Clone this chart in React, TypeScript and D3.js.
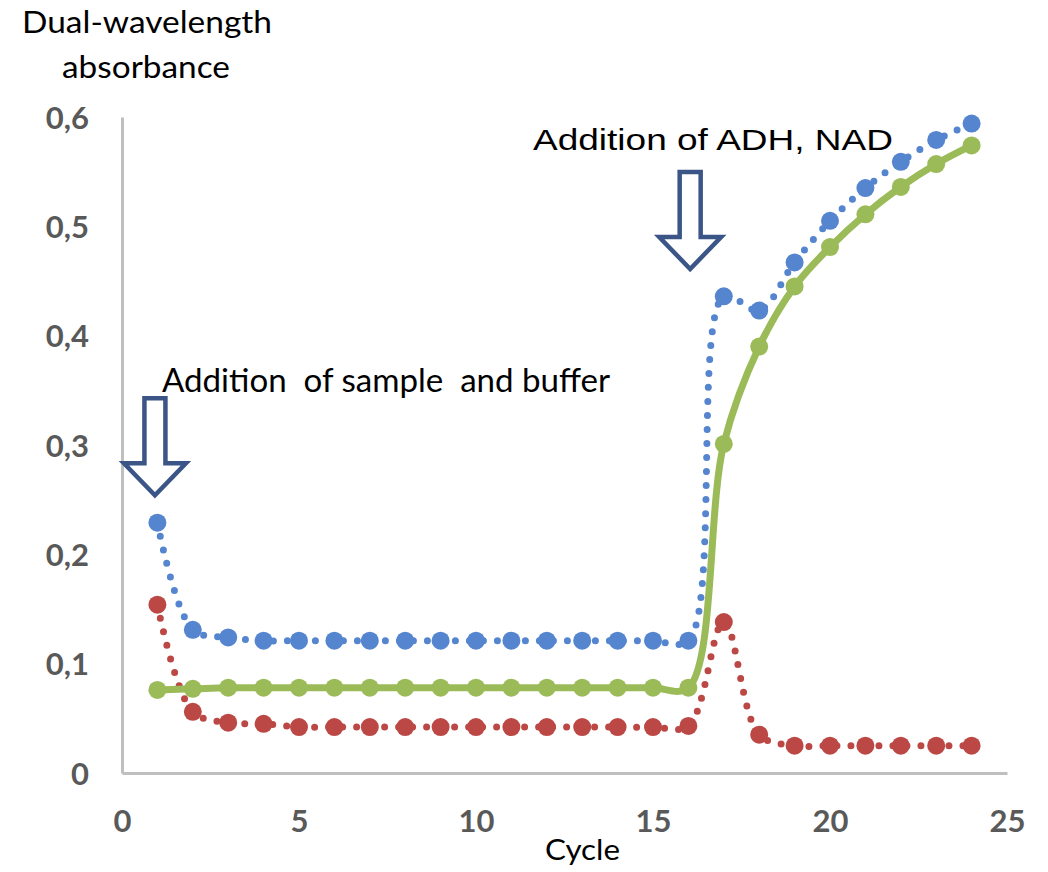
import { useRef, useEffect } from 'react'
import * as d3 from 'd3'

const CYCLES = [1, 2, 3, 4, 5, 6, 7, 8, 9, 10, 11, 12, 13, 14, 15, 16, 17, 18, 19, 20, 21, 22, 23, 24]
const BLUE = [0.229, 0.131, 0.124, 0.121, 0.121, 0.121, 0.121, 0.121, 0.121, 0.121, 0.121, 0.121, 0.121, 0.121, 0.121, 0.121, 0.436, 0.423, 0.467, 0.505, 0.535, 0.559, 0.579, 0.594]
const RED = [0.154, 0.056, 0.046, 0.045, 0.042, 0.042, 0.042, 0.042, 0.042, 0.042, 0.042, 0.042, 0.042, 0.042, 0.042, 0.043, 0.138, 0.035, 0.025, 0.025, 0.025, 0.025, 0.025, 0.025]
const GREEN = [0.076, 0.077, 0.078, 0.078, 0.078, 0.078, 0.078, 0.078, 0.078, 0.078, 0.078, 0.078, 0.078, 0.078, 0.078, 0.078, 0.301, 0.39, 0.445, 0.481, 0.511, 0.536, 0.557, 0.574]

const X_TICKS = [0, 5, 10, 15, 20, 25]
const X_TICK_LABELS = ['0', '5', '10', '15', '20', '25']
const Y_TICKS = [0, 0.1, 0.2, 0.3, 0.4, 0.5, 0.6]
const Y_TICK_LABELS = ['0', '0,1', '0,2', '0,3', '0,4', '0,5', '0,6']

// arrow tips, in data units
const ARROWS = [
  { x: 0.93, y: 0.254 },
  { x: 16.05, y: 0.461 },
]

const W = 1048
const H = 872
const CALIBRI = "Lato, 'Open Sans', sans-serif"

export default function App() {
  const svgRef = useRef<SVGSVGElement>(null)

  useEffect(() => {
    const svg = svgRef.current
    if (!svg) return
    const sel = d3.select(svg)
    sel.selectAll('*').remove()

    const margin = { top: 117, right: 41, bottom: 99, left: 122 }
    const x = d3.scaleLinear().domain([0, 25]).range([margin.left, W - margin.right])
    const y = d3.scaleLinear().domain([0, 0.6]).range([H - margin.bottom, margin.top])

    // axes
    const yAxis = sel.append('g')
      .attr('transform', `translate(${margin.left},0)`)
      .call(d3.axisLeft(y).tickValues(Y_TICKS).tickFormat((_d, i) => Y_TICK_LABELS[i]).tickSize(0).tickSizeOuter(0).tickPadding(33))
    const xAxis = sel.append('g')
      .attr('transform', `translate(0,${H - margin.bottom})`)
      .call(d3.axisBottom(x).tickValues(X_TICKS).tickFormat((_d, i) => X_TICK_LABELS[i]).tickSize(0).tickSizeOuter(0).tickPadding(37))
    ;[yAxis, xAxis].forEach((a) => {
      a.select('.domain').attr('stroke', '#bfbfbf').attr('stroke-width', 3)
      a.selectAll('text')
        .attr('fill', '#595959')
        .attr('font-family', CALIBRI)
        .attr('font-weight', 'bold')
        .attr('font-size', '31px')
    })
    yAxis.selectAll('text').attr('dy', '0.36em')
    xAxis.selectAll('text').attr('dy', '0.72em')

    const line = d3.line<number>()
      .x((_d, i) => x(CYCLES[i]))
      .y((d) => y(d))
      .curve(d3.curveCatmullRom.alpha(0.5))

    const series = [
      { values: BLUE, color: '#5585cf', dotted: true },
      { values: RED, color: '#bc4846', dotted: true },
      { values: GREEN, color: '#9bbb59', dotted: false },
    ]

    series.forEach((s) => {
      sel.append('path')
        .datum(s.values)
        .attr('fill', 'none')
        .attr('stroke', s.color)
        .attr('stroke-width', 7)
        .attr('stroke-linecap', 'round')
        .attr('stroke-dasharray', s.dotted ? '0 14' : null)
        .attr('d', line)
      sel.append('g')
        .selectAll('circle')
        .data(s.values)
        .join('circle')
        .attr('cx', (_d, i) => x(CYCLES[i]))
        .attr('cy', (d) => y(d))
        .attr('r', 9)
        .attr('fill', s.color)
    })

    // hollow block arrows
    const arrow = (tx: number, ty: number) => {
      const len = 97, shaft = 21, head = 62, headLen = 32
      const top = ty - len, neck = ty - headLen
      return `M${tx - shaft / 2},${top} H${tx + shaft / 2} V${neck} H${tx + head / 2} L${tx},${ty} L${tx - head / 2},${neck} H${tx - shaft / 2} Z`
    }
    ARROWS.forEach((a) => {
      sel.append('path')
        .attr('d', arrow(x(a.x), y(a.y)))
        .attr('fill', '#fff')
        .attr('stroke', '#3b5587')
        .attr('stroke-width', 4.5)
        .attr('stroke-linejoin', 'miter')
    })

    const label = (txt: string, lx: number, ly: number, size: number, len: number, family = CALIBRI) => {
      sel.append('text')
        .attr('x', lx).attr('y', ly)
        .attr('font-family', family)
        .attr('font-size', `${size}px`)
        .attr('fill', '#000')
        .attr('textLength', len)
        .attr('lengthAdjust', 'spacingAndGlyphs')
        .style('white-space', 'pre')
        .text(txt)
    }
    label('Dual-wavelength', 22, 33, 30, 250)
    label('absorbance', 62, 78, 30, 168)
    label('Addition  of sample  and buffer', 162, 392, 33, 448)
    label('Addition of ADH, NAD', 533, 150, 30, 360, "'Liberation Sans', Arial, sans-serif")
    label('Cycle', 545, 860, 28, 75)
  }, [])

  return (
    <svg
      ref={svgRef}
      width={W}
      height={H}
      style={{ position: 'absolute', left: 0, top: 0, background: '#fff' }}
    />
  )
}
